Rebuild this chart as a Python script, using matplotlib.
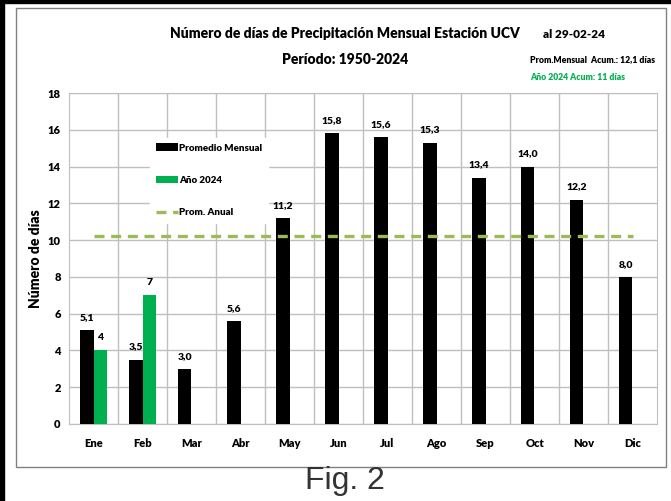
import matplotlib.pyplot as plt
import numpy as np
from matplotlib.patches import Rectangle

meses = ['Ene', 'Feb', 'Mar', 'Abr', 'May', 'Jun', 'Jul', 'Ago', 'Sep', 'Oct', 'Nov', 'Dic']
promedio = [5.1, 3.5, 3.0, 5.6, 11.2, 15.8, 15.6, 15.3, 13.4, 14.0, 12.2, 8.0]
anio_2024 = [4, 7]
prom_anual = 10.2

negro = '#000000'
verde = '#00B050'
oliva = '#9BBB59'
gris = '#BFBFBF'
peso = 'heavy'

plt.rcParams['font.family'] = ['Lato', 'DejaVu Sans']
plt.rcParams['font.weight'] = peso

fig = plt.figure(figsize=(6.71, 5.01), dpi=100)

# marco negro de la captura y borde del area del grafico
fig.patches.append(Rectangle((0, 0), 4 / 671, 1, transform=fig.transFigure, color='black', zorder=0))
fig.patches.append(Rectangle((0, 1 - 2.5 / 501), 1, 2.5 / 501, transform=fig.transFigure, color='black', zorder=0))
fig.patches.append(Rectangle((16 / 671, 1 - 467 / 501), 650 / 671, 459 / 501, transform=fig.transFigure,
                             fill=False, edgecolor='#808080', linewidth=1, zorder=0))

ax = fig.add_axes([69 / 671, 1 - 424 / 501, 588 / 671, 331 / 501])

x = np.arange(len(meses))
w = 0.28
b1 = ax.bar(x - w / 2, promedio, w, color=negro, label='Promedio Mensual', zorder=3)
b2 = ax.bar(x[:len(anio_2024)] + w / 2, anio_2024, w, color=verde, label='Año 2024', zorder=3)
l1, = ax.plot([0, 11], [prom_anual, prom_anual], color=oliva, linestyle=(0, (3, 2)), linewidth=2.4,
              label='Prom. Anual', zorder=4)

for i, v in enumerate(promedio):
    ax.text(x[i] - w / 2, v + 0.45, f'{v:.1f}'.replace('.', ','), ha='center', va='bottom',
            fontsize=7.5, fontweight=peso, zorder=6)
for i, v in enumerate(anio_2024):
    ax.text(x[i] + w / 2, v + 0.45, str(v), ha='center', va='bottom', fontsize=7.5,
            fontweight=peso, zorder=6)

ax.set_xlim(-0.5, 11.5)
ax.set_ylim(0, 18)
ax.set_yticks(range(0, 19, 2))
ax.set_xticks(x)
ax.set_xticklabels(meses)
ax.set_xticks(np.arange(0.5, 11.5, 1), minor=True)
ax.tick_params(axis='both', which='both', length=0, labelsize=8)
ax.tick_params(axis='x', pad=10)
ax.tick_params(axis='y', pad=6)
ax.grid(True, which='major', axis='y', color=gris, linewidth=1, zorder=0)
ax.grid(True, which='minor', axis='x', color=gris, linewidth=1, zorder=0)
for s in ax.spines.values():
    s.set_color(gris)
ax.set_ylabel('Número de días', fontsize=10, fontweight=peso)
ax.yaxis.set_label_coords(-0.046, 0.5)

leg = ax.legend([b1, b2, l1], ['Promedio Mensual', 'Año 2024', 'Prom. Anual'],
                loc='upper left', bbox_to_anchor=(0.13, 0.88), frameon=True, fontsize=7,
                handlelength=2.2, handleheight=0.8, labelspacing=2.4, borderpad=0.6,
                handletextpad=0.2)
leg.get_frame().set_edgecolor('white')
leg.get_frame().set_facecolor('white')
leg.get_frame().set_alpha(1)
leg.set_zorder(5)

fig.text(345 / 671, 1 - 33 / 501, 'Número de días de Precipitación Mensual Estación UCV',
         ha='center', va='center', fontsize=10)
fig.text(345 / 671, 1 - 60 / 501, 'Período: 1950-2024', ha='center', va='center', fontsize=10)
fig.text(574 / 671, 1 - 34 / 501, 'al 29-02-24', ha='center', va='center', fontsize=8.5)
fig.text(530 / 671, 1 - 60 / 501, 'Prom.Mensual  Acum.: 12,1 días', ha='left', va='center', fontsize=6.2)
fig.text(530 / 671, 1 - 77 / 501, 'Año 2024 Acum: 11 días', ha='left', va='center', fontsize=6.2,
         color=verde)
fig.text(345 / 671, 1 - 481 / 501, 'Fig. 2', ha='center', va='center', fontsize=23,
         fontweight='normal', color='#333333', family=['Liberation Sans', 'DejaVu Sans'])

fig.savefig('out.png', dpi=100)
